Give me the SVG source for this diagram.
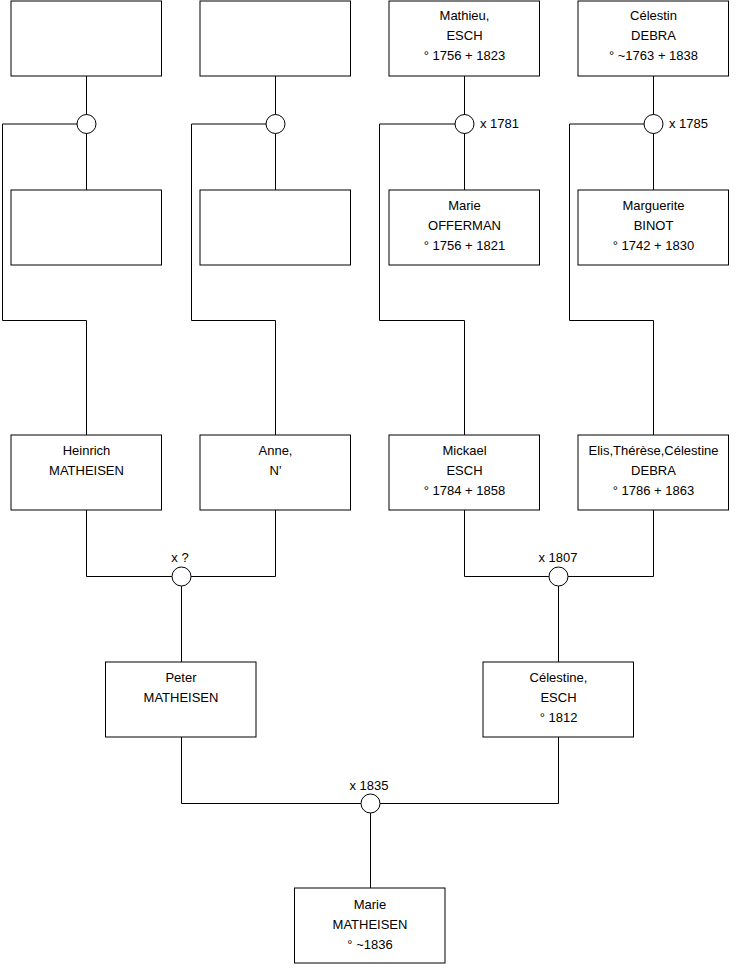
<svg xmlns="http://www.w3.org/2000/svg" width="740" height="975" viewBox="0 0 740 975">
<style>
.box{fill:#fff;stroke:#000;stroke-width:1}
.ln{fill:none;stroke:#000;stroke-width:1}
.ring{fill:#fff;stroke:#000;stroke-width:1}
text{font-family:"Liberation Sans",Arial,sans-serif;font-size:13px;fill:#000}
.c{text-anchor:middle}
</style>
<rect width="740" height="975" fill="#fff"/>
<g id="connectors">
<path class="ln" d="M86.5 76V190M86.5 124H2.5V320.5H86.5V435"/>
<path class="ln" d="M275.5 76V190M275.5 124H191.5V320.5H275.5V435"/>
<path class="ln" d="M464.5 76V190M464.5 124H379.5V320.5H464.5V435"/>
<path class="ln" d="M653.5 76V190M653.5 124H569.5V320.5H653.5V435"/>
<path class="ln" d="M86.5 510V576.5H275.5V510M181.5 576V662"/>
<path class="ln" d="M464.5 510V576.5H653.5V510M558.5 576V662"/>
<path class="ln" d="M181.5 737V803.5H558.5V737M370.5 803V888"/>
<circle class="ring" cx="86.5" cy="124" r="9.5"/>
<circle class="ring" cx="275.5" cy="124" r="9.5"/>
<circle class="ring" cx="464.5" cy="124" r="9.5"/>
<circle class="ring" cx="653.5" cy="124" r="9.5"/>
<circle class="ring" cx="181.5" cy="576.5" r="9.5"/>
<circle class="ring" cx="558.5" cy="576.5" r="9.5"/>
<circle class="ring" cx="370.5" cy="803.5" r="9.5"/>
<text x="480" y="128">x 1781</text>
<text x="669" y="128">x 1785</text>
<text class="c" x="180" y="562">x ?</text>
<text class="c" x="558" y="562">x 1807</text>
<text class="c" x="369" y="790">x 1835</text>
</g>
<g id="n1"><rect class="box" x="11" y="1" width="150.5" height="75"/></g>
<g id="n2"><rect class="box" x="200" y="1" width="150.5" height="75"/></g>
<g id="n3"><rect class="box" x="389" y="1" width="150.5" height="75"/>
<text class="c" x="464.5" y="20">Mathieu,</text><text class="c" x="464.5" y="40">ESCH</text><text class="c" x="464.5" y="60">° 1756 + 1823</text></g>
<g id="n4"><rect class="box" x="578" y="1" width="150.5" height="75"/>
<text class="c" x="653.5" y="20">Célestin</text><text class="c" x="653.5" y="40">DEBRA</text><text class="c" x="653.5" y="60">° ~1763 + 1838</text></g>
<g id="n5"><rect class="box" x="11" y="190" width="150.5" height="75"/></g>
<g id="n6"><rect class="box" x="200" y="190" width="150.5" height="75"/></g>
<g id="n7"><rect class="box" x="389" y="190" width="150.5" height="75"/>
<text class="c" x="464.5" y="210">Marie</text><text class="c" x="464.5" y="230">OFFERMAN</text><text class="c" x="464.5" y="250">° 1756 + 1821</text></g>
<g id="n8"><rect class="box" x="578" y="190" width="150.5" height="75"/>
<text class="c" x="653.5" y="210">Marguerite</text><text class="c" x="653.5" y="230">BINOT</text><text class="c" x="653.5" y="250">° 1742 + 1830</text></g>
<g id="n9"><rect class="box" x="11" y="435" width="150.5" height="75"/>
<text class="c" x="86.5" y="455">Heinrich</text><text class="c" x="86.5" y="475">MATHEISEN</text></g>
<g id="n10"><rect class="box" x="200" y="435" width="150.5" height="75"/>
<text class="c" x="275.5" y="455">Anne,</text><text class="c" x="275.5" y="475">N'</text></g>
<g id="n11"><rect class="box" x="389" y="435" width="150.5" height="75"/>
<text class="c" x="464.5" y="455">Mickael</text><text class="c" x="464.5" y="475">ESCH</text><text class="c" x="464.5" y="495">° 1784 + 1858</text></g>
<g id="n12"><rect class="box" x="578" y="435" width="150.5" height="75"/>
<text class="c" x="653.5" y="455">Elis,Thérèse,Célestine</text><text class="c" x="653.5" y="475">DEBRA</text><text class="c" x="653.5" y="495">° 1786 + 1863</text></g>
<g id="n13"><rect class="box" x="105.5" y="662" width="150.5" height="75"/>
<text class="c" x="181" y="682">Peter</text><text class="c" x="181" y="702">MATHEISEN</text></g>
<g id="n14"><rect class="box" x="483" y="662" width="150.5" height="75"/>
<text class="c" x="558.5" y="682">Célestine,</text><text class="c" x="558.5" y="702">ESCH</text><text class="c" x="558.5" y="722">° 1812</text></g>
<g id="n15"><rect class="box" x="294.5" y="888" width="150.5" height="75"/>
<text class="c" x="370" y="909">Marie</text><text class="c" x="370" y="929">MATHEISEN</text><text class="c" x="370" y="949">° ~1836</text></g>
</svg>
